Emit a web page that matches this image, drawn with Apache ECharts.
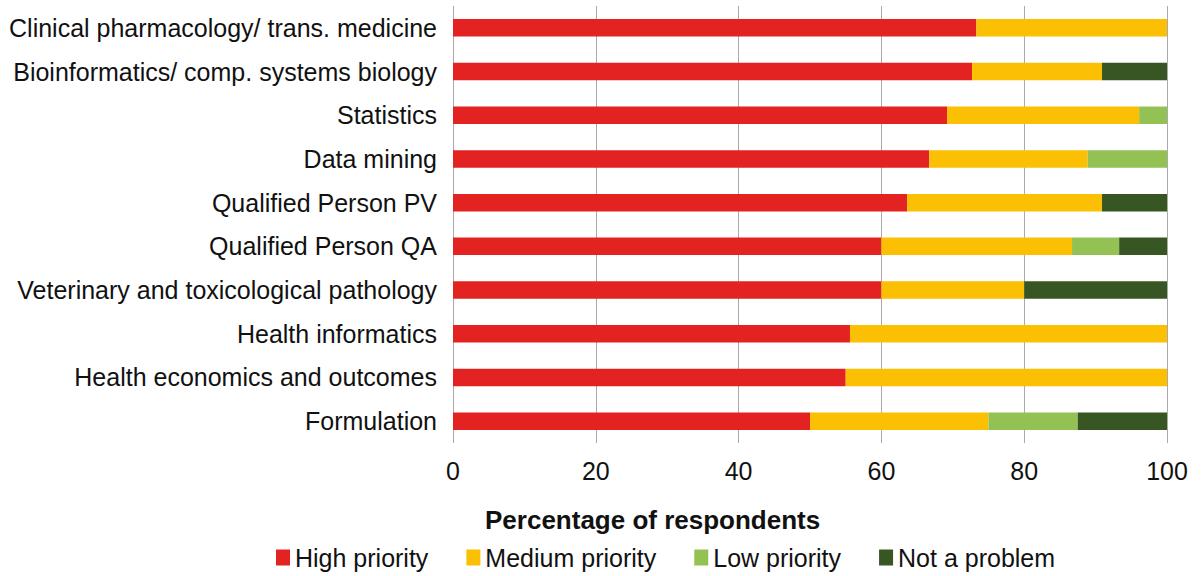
<!DOCTYPE html>
<html><head><meta charset="utf-8">
<script src="https://cdn.jsdelivr.net/npm/echarts@6/dist/echarts.min.js"></script>
<style>html,body{margin:0;padding:0;background:#fff}#c{width:1204px;height:576px}</style>
</head><body><div id="c"></div>
<script>
const categories = ["Clinical pharmacology/ trans. medicine","Bioinformatics/ comp. systems biology","Statistics","Data mining","Qualified Person PV","Qualified Person QA","Veterinary and toxicological pathology","Health informatics","Health economics and outcomes","Formulation"];
const highPriority   = [73.3, 72.7, 69.2, 66.7, 63.6, 60.0, 60.0, 55.6, 55.0, 50.0];
const mediumPriority = [26.7, 18.2, 26.9, 22.2, 27.3, 26.7, 20.0, 44.4, 45.0, 25.0];
const lowPriority    = [0,    0,    3.9,  11.1, 0,    6.6,  0,    0,    0,    12.5];
const notAProblem    = [0,    9.1,  0,    0,    9.1,  6.7,  20.0, 0,    0,    12.5];
const xTicks = [0, 20, 40, 60, 80, 100];
const seriesNames = ["High priority","Medium priority","Low priority","Not a problem"];
const colors = ["#E32322","#FBBF04","#94C153","#375623"];
const font = "Liberation Sans, Arial, Helvetica, sans-serif";
const chart = echarts.init(document.getElementById('c'), null, {renderer:'svg'});
const data = [highPriority, mediumPriority, lowPriority, notAProblem];
chart.setOption({
  animation:false,
  color: colors,
  textStyle:{fontFamily:font},
  grid:{left:453, right:37, top:6, bottom:133, containLabel:false},
  xAxis:{type:'value', min:xTicks[0], max:xTicks[xTicks.length-1], interval:20,
    axisLine:{show:false}, axisTick:{show:false},
    splitLine:{show:true, lineStyle:{color:'#aaaaaa', width:1}},
    axisLabel:{fontSize:25, color:'#111', margin:15, fontFamily:font}},
  yAxis:{type:'category', data:categories, inverse:true,
    axisLine:{show:false}, axisTick:{show:false},
    axisLabel:{fontSize:25, color:'#111', margin:16, fontFamily:font}},
  legend:{data:seriesNames, left:271, bottom:1, itemWidth:14, itemHeight:16, itemGap:38,
    icon:'rect', textStyle:{fontSize:25, color:'#111', fontFamily:font}},
  graphic:[{type:'text', left:485, top:507, style:{text:'Percentage of respondents', fontSize:26, fontWeight:'bold', fill:'#111', fontFamily:font}}],
  series: data.map((d,i)=>({name:seriesNames[i], type:'bar', stack:'total', data:d, barWidth:'40%', itemStyle:{color:colors[i]}}))
});
</script></body></html>
